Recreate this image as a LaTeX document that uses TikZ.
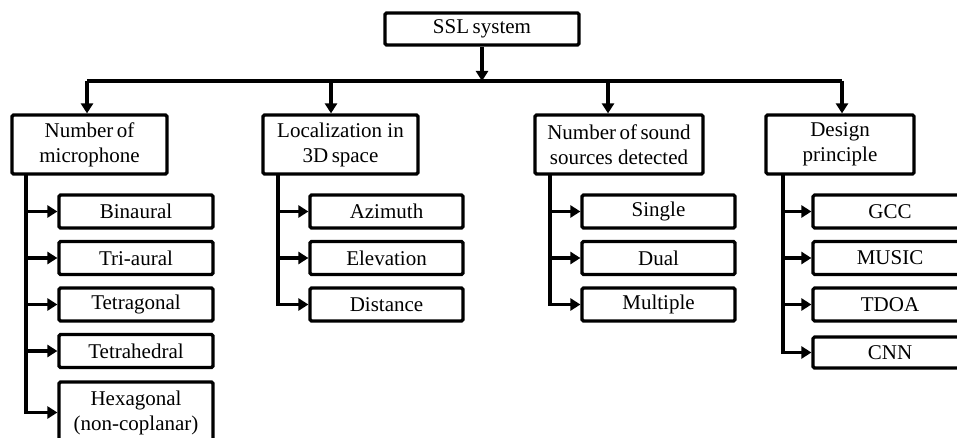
\documentclass[tikz,border=0pt]{standalone}
\usepackage{fontspec}
\setmainfont{Liberation Serif}
\usetikzlibrary{arrows.meta}
\begin{document}
\begin{tikzpicture}[x=1pt,y=-1pt,
  box/.style={draw, line width=3.2pt, rounded corners=1.5pt, inner sep=0pt, align=center,
    font=\fontsize{21}{25}\selectfont},
  cat/.style={box, minimum height=59pt},
  sub/.style={box, minimum height=33pt},
  ln/.style={line width=3.2pt},
  arr/.style={ln, -{Triangle[length=10pt,width=12pt]}}]
\useasboundingbox (0,0) rectangle (957,438);
\fill[white] (0,0) rectangle (957,438);
% top
\node[box, minimum width=194pt, minimum height=32pt] (top) at (482,29) {SSL\,system};
% categories
\node[cat, minimum width=155pt] (mic) at (89.5,144.5) {Number\,of\\microphone};
\node[cat, minimum width=155pt] (loc) at (340.5,144.5) {Localization in\\3D\,space};
\node[cat, minimum width=168pt] (snd) at (619,144.5) {Number\,of\,sound\\sources detected};
\node[cat, minimum width=148pt] (des) at (840,144.5) {Design\\principle};
% bus
\coordinate (bj) at (482,81);
\coordinate (b1) at (87,81);
\coordinate (b2) at (331,81);
\coordinate (b3) at (608,81);
\coordinate (b4) at (842,81);
\draw[arr] (top.south) -- (bj);
\draw[ln] (b1) -- (b4);
\draw[arr] (b1) -- (b1 |- mic.north);
\draw[arr] (b2) -- (b2 |- loc.north);
\draw[arr] (b3) -- (b3 |- snd.north);
\draw[arr] (b4) -- (b4 |- des.north);
% microphone subs
\node[sub, minimum width=154pt] (m1) at (136,211.5) {Binaural};
\node[sub, minimum width=154pt] (m2) at (136,258) {Tri-aural};
\node[sub, minimum width=154pt] (m3) at (136,304.5) {Tetragonal};
\node[sub, minimum width=154pt] (m4) at (136,351) {Tetrahedral};
\node[box, minimum width=154pt, minimum height=61pt] (m5) at (136,412.5) {Hexagonal\\(non-coplanar)};
\coordinate (t1) at (26,174);
\draw[arr] (t1) |- (m5.west);
\foreach \n in {m1,m2,m3,m4} \draw[arr] (t1 |- \n.west) -- (\n.west);
% localization subs
\node[sub, minimum width=153pt] (l1) at (386.5,211.5) {Azimuth};
\node[sub, minimum width=153pt] (l2) at (386.5,258) {Elevation};
\node[sub, minimum width=153pt] (l3) at (386.5,304.5) {Distance};
\coordinate (t2) at (278,174);
\draw[arr] (t2) |- (l3.west);
\foreach \n in {l1,l2} \draw[arr] (t2 |- \n.west) -- (\n.west);
% sound subs
\node[sub, minimum width=153pt] (s1) at (658.5,211.5) {Single};
\node[sub, minimum width=153pt] (s2) at (658.5,258) {Dual};
\node[sub, minimum width=153pt] (s3) at (658.5,304.5) {Multiple};
\coordinate (t3) at (550,174);
\draw[arr] (t3) |- (s3.west);
\foreach \n in {s1,s2} \draw[arr] (t3 |- \n.west) -- (\n.west);
% design subs
\node[sub, minimum width=154pt] (d1) at (890,211.5) {GCC};
\node[sub, minimum width=154pt] (d2) at (890,258) {MUSIC};
\node[sub, minimum width=154pt] (d3) at (890,304.5) {TDOA};
\node[sub, minimum width=154pt, minimum height=31pt] (d4) at (890,352.5) {CNN};
\coordinate (t4) at (783,174);
\draw[arr] (t4) |- (d4.west);
\foreach \n in {d1,d2,d3} \draw[arr] (t4 |- \n.west) -- (\n.west);
\end{tikzpicture}
\end{document}
